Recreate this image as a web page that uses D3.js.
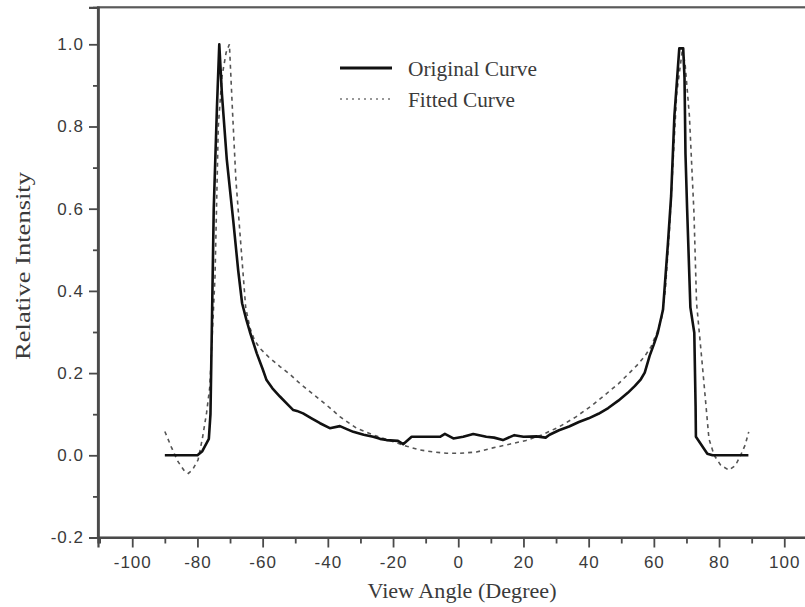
<!DOCTYPE html>
<html>
<head>
<meta charset="utf-8">
<script src="https://cdn.jsdelivr.net/npm/d3@7"></script>
<style>
  html, body { margin: 0; padding: 0; background: #fff; }
  svg { display: block; }
</style>
</head>
<body>
<svg id="chart" width="805" height="607"></svg>
<script>
// Measured angular intensity profile (degrees, relative intensity)
const originalAngle = [-90, -85, -80, -78.5, -76.5, -76, -75.5, -75, -74, -73.3, -72.5, -71, -69, -67.5, -66.3, -65, -63.9, -61.8, -60, -58.8, -57, -54.7, -52.5, -50.6, -49.5, -47.6, -45, -42.4, -39.4, -36.3, -34, -32.2, -29, -26.1, -24, -22, -18.5, -16.9, -14.3, -10, -5.6, -4.1, -1.5, 1.5, 4.6, 8.6, 11, 13.7, 17.2, 20, 24, 26.8, 28, 30.9, 34, 37, 40, 43, 46, 49.1, 52, 54.2, 56, 57.2, 58.7, 60, 61.2, 62.8, 64.3, 65.3, 66.3, 67.8, 69, 69.4, 69.7, 70.2, 71.2, 72.4, 72.8, 72.9, 76.4, 78, 89];
const originalValue = [0, 0, 0, 0.01, 0.04, 0.10, 0.35, 0.60, 0.85, 1.0, 0.88, 0.72, 0.57, 0.45, 0.37, 0.33, 0.30, 0.248, 0.21, 0.183, 0.163, 0.143, 0.125, 0.110, 0.108, 0.102, 0.09, 0.078, 0.066, 0.071, 0.063, 0.057, 0.05, 0.045, 0.04, 0.037, 0.035, 0.027, 0.045, 0.045, 0.045, 0.052, 0.041, 0.045, 0.052, 0.045, 0.043, 0.037, 0.049, 0.045, 0.046, 0.043, 0.05, 0.061, 0.07, 0.081, 0.09, 0.101, 0.115, 0.133, 0.152, 0.169, 0.185, 0.201, 0.242, 0.27, 0.298, 0.354, 0.514, 0.631, 0.826, 0.99, 0.99, 0.919, 0.733, 0.60, 0.36, 0.298, 0.12, 0.045, 0.004, 0, 0];

// Fitted model of the same profile
const fittedAngle = [-90, -88, -86, -84, -82.8, -81.5, -79.8, -78.5, -77.2, -76.2, -74.6, -73.6, -72.5, -71.2, -70.2, -69.2, -68.2, -66.7, -65.2, -63.9, -62.5, -60.8, -58, -54.7, -51.5, -48.6, -45.5, -42.4, -39.3, -36.3, -33.8, -31.2, -25.5, -19.9, -15.8, -11.8, -7.5, -3.6, 0.5, 5.6, 10.6, 15.7, 20.8, 25.8, 30.9, 36, 41, 45, 49.1, 52.2, 55.2, 57.3, 59.2, 61, 62.3, 63.5, 64.8, 65.8, 67, 68.8, 69.6, 70.9, 72.3, 73.1, 74.9, 76.9, 78.5, 80.5, 83, 85, 86.6, 88, 89.1];
const fittedValue = [0.058, 0.02, -0.015, -0.038, -0.044, -0.035, -0.011, 0.04, 0.103, 0.167, 0.437, 0.80, 0.92, 0.98, 1.0, 0.83, 0.67, 0.514, 0.36, 0.31, 0.28, 0.26, 0.238, 0.216, 0.196, 0.175, 0.155, 0.135, 0.115, 0.094, 0.08, 0.066, 0.048, 0.033, 0.022, 0.013, 0.008, 0.005, 0.005, 0.008, 0.018, 0.027, 0.036, 0.05, 0.069, 0.093, 0.121, 0.147, 0.174, 0.198, 0.222, 0.242, 0.265, 0.30, 0.33, 0.40, 0.55, 0.70, 0.88, 0.99, 0.95, 0.826, 0.59, 0.37, 0.217, 0.04, 0.0, -0.024, -0.036, -0.025, 0.0, 0.025, 0.057];

const xTicks = [-100, -80, -60, -40, -20, 0, 20, 40, 60, 80, 100];
const xMinorTicks = [-110, -90, -70, -50, -30, -10, 10, 30, 50, 70, 90];
const yTicks = [-0.2, 0.0, 0.2, 0.4, 0.6, 0.8, 1.0];
const yMinorTicks = [-0.1, 0.1, 0.3, 0.5, 0.7, 0.9];
const seriesNames = ["Original Curve", "Fitted Curve"];

const svg = d3.select("#chart");
const frame = { left: 98, right: 818.5, top: 7.3, bottom: 537.5 };

const x = d3.scaleLinear().domain([-110.5, 110.5]).range([frame.left, frame.right]);
const y = d3.scaleLinear().domain([-0.2, 1.09]).range([frame.bottom, frame.top]);

const axisColor = "#4a4a4a";
const textColor = "#3a3a3a";
const serif = "'Liberation Serif', 'Times New Roman', serif";

// Plot frame (right side runs past the canvas edge)
svg.append("rect")
  .attr("x", frame.left).attr("y", frame.top)
  .attr("width", frame.right - frame.left).attr("height", frame.bottom - frame.top)
  .attr("fill", "none").attr("stroke", "#5a5a5a").attr("stroke-width", 2.2);

// Axes
const xAxis = svg.append("g").attr("transform", `translate(0,${frame.bottom})`)
  .call(d3.axisBottom(x).tickValues(xTicks).tickSize(10).tickPadding(8).tickFormat(d3.format("d")));
const xMinor = svg.append("g").attr("transform", `translate(0,${frame.bottom})`)
  .call(d3.axisBottom(x).tickValues(xMinorTicks).tickSize(6).tickFormat(""));
const yAxis = svg.append("g").attr("transform", `translate(${frame.left},0)`)
  .call(d3.axisLeft(y).tickValues(yTicks).tickSize(9).tickPadding(5).tickFormat(d3.format(".1f")));
const yMinor = svg.append("g").attr("transform", `translate(${frame.left},0)`)
  .call(d3.axisLeft(y).tickValues(yMinorTicks).tickSize(5).tickFormat(""));

[xAxis, xMinor, yAxis, yMinor].forEach(g => {
  g.select(".domain").attr("stroke", axisColor).attr("stroke-width", 2.2);
  g.selectAll(".tick line").attr("stroke", axisColor).attr("stroke-width", 1.8);
  g.selectAll(".tick text")
    .attr("fill", textColor)
    .style("font-family", "'Liberation Sans', Arial, sans-serif")
    .style("font-size", "17px")
    .style("letter-spacing", "1px");
});
xAxis.selectAll(".tick text").text(d => d < 0 ? "-" + Math.abs(d) : d);
yAxis.selectAll(".tick text").text(d => (d < 0 ? "-" : "") + Math.abs(d).toFixed(1));

// Axis titles
svg.append("text")
  .attr("x", 462).attr("y", 598)
  .attr("text-anchor", "middle")
  .attr("fill", textColor)
  .attr("textLength", 189)
  .attr("lengthAdjust", "spacingAndGlyphs")
  .style("font-family", serif)
  .style("font-size", "21px")
  .text("View Angle (Degree)");

svg.append("text")
  .attr("transform", "translate(30,266) rotate(-90)")
  .attr("text-anchor", "middle")
  .attr("fill", textColor)
  .attr("textLength", 188)
  .attr("lengthAdjust", "spacingAndGlyphs")
  .style("font-family", serif)
  .style("font-size", "22px")
  .text("Relative Intensity");

// Curves
const original = originalAngle.map((a, i) => [a, originalValue[i]]);
const fitted = fittedAngle.map((a, i) => [a, fittedValue[i]]);
const line = d3.line().x(d => x(d[0])).y(d => y(d[1]));

svg.append("path").datum(fitted)
  .attr("d", line)
  .attr("fill", "none")
  .attr("stroke", "#555")
  .attr("stroke-width", 1.6)
  .attr("stroke-dasharray", "4,4");

svg.append("path").datum(original)
  .attr("d", line)
  .attr("fill", "none")
  .attr("stroke", "#111")
  .attr("stroke-width", 2.6)
  .attr("stroke-linejoin", "round");

// Legend
const legend = svg.append("g");
const legendRows = [
  { name: seriesNames[0], y: 68, stroke: "#111", width: 3, dash: null, len: 129 },
  { name: seriesNames[1], y: 99, stroke: "#777", width: 1.4, dash: "2,4", len: 107 }
];
legendRows.forEach(r => {
  legend.append("line")
    .attr("x1", 340).attr("x2", 392).attr("y1", r.y).attr("y2", r.y)
    .attr("stroke", r.stroke).attr("stroke-width", r.width)
    .attr("stroke-dasharray", r.dash);
  legend.append("text")
    .attr("x", 408).attr("y", r.y + 8)
    .attr("fill", textColor)
    .attr("textLength", r.len)
    .attr("lengthAdjust", "spacingAndGlyphs")
    .style("font-family", serif)
    .style("font-size", "21px")
    .text(r.name);
});
</script>
</body>
</html>
